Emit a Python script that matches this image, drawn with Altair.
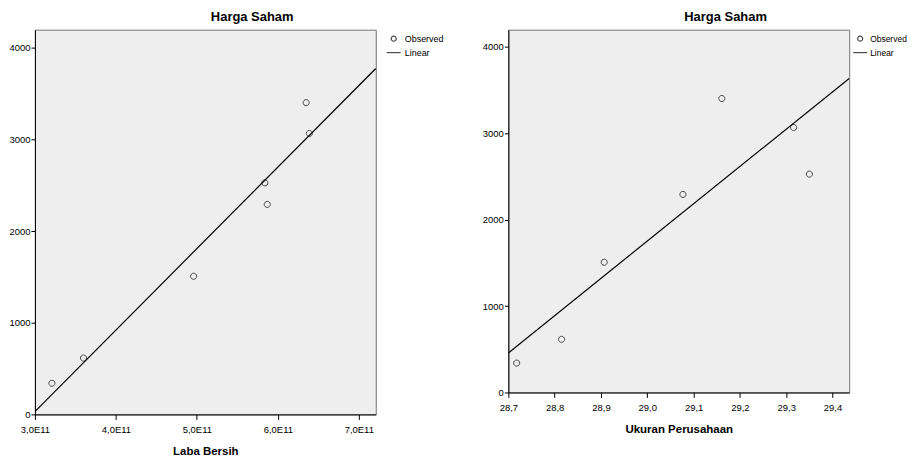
import altair as alt
import pandas as pd

# Data (7 firms)
harga_saham = [340, 615, 1508, 2293, 2528, 3067, 3403]
laba_bersih = [3.21e11, 3.60e11, 4.96e11, 5.87e11, 5.84e11, 6.39e11, 6.35e11]
ukuran_perusahaan = [28.718, 28.815, 28.907, 29.077, 29.350, 29.316, 29.161]

legend_items = ["Observed", "Linear"]
y_ticks = [0, 1000, 2000, 3000, 4000]
x1_ticks = [3.0e11, 4.0e11, 5.0e11, 6.0e11, 7.0e11]
x2_ticks = [28.7, 28.8, 28.9, 29.0, 29.1, 29.2, 29.3, 29.4]

df = pd.DataFrame({
    "laba": laba_bersih,
    "ukuran": ukuran_perusahaan,
    "harga": harga_saham,
    "series": ["Observed"] * len(harga_saham),
})

FONT = "Liberation Sans"
CIRCLE = "M-0.36,0A0.36,0.36,0,1,1,0.36,0A0.36,0.36,0,1,1,-0.36,0Z"
LINE = "M-1,0L1,0"
BG = "#eeeeee"

def panel(xfield, xtitle, xdomain, xticks, label_expr, height, leg_x, leg_font, leg_off):
    yenc = alt.Y(
        "harga:Q",
        scale=alt.Scale(domain=[0, 4200], nice=False, zero=False),
        axis=alt.Axis(values=y_ticks, format="d", title=None, grid=False,
                      labelFontSize=9.5, labelPadding=1, tickSize=4,
                      tickColor="black", domainColor="black", labelColor="black"),
    )
    xenc = alt.X(
        f"{xfield}:Q",
        scale=alt.Scale(domain=xdomain, nice=False, zero=False),
        axis=alt.Axis(values=xticks, labelExpr=label_expr, title=xtitle, grid=False,
                      labelFontSize=9.5, labelPadding=5, tickSize=5,
                      tickColor="black", domainColor="black", labelColor="black",
                      titleFontSize=11.5, titleFontWeight="bold", titlePadding=12,
                      titleColor="black", labelFlush=False),
    )
    pts = alt.Chart(df).mark_point(filled=False, size=290, strokeWidth=1, color="black").encode(
        x=xenc,
        y=yenc,
        shape=alt.Shape(
            "series:N",
            scale=alt.Scale(domain=legend_items, range=[CIRCLE, LINE]),
            legend=alt.Legend(
                title=None, orient="none", legendX=leg_x, legendY=1,
                symbolSize=196, symbolStrokeColor="black", symbolStrokeWidth=1.2,
                symbolFillColor="transparent", labelFontSize=leg_font, labelColor="black",
                labelOffset=leg_off, rowPadding=1, padding=0, labelFont=FONT,
            ),
        ),
    )
    line = alt.Chart(df).transform_regression(
        xfield, "harga", extent=xdomain
    ).mark_line(color="black", strokeWidth=1.2, clip=True).encode(
        x=alt.X(f"{xfield}:Q"),
        y=alt.Y("harga:Q"),
    )
    return alt.layer(pts, line).properties(
        width=342,
        height=height,
        view=alt.ViewBackground(fill=BG, stroke="#777777", strokeWidth=1),
        title=alt.TitleParams("Harga Saham", fontSize=13, fontWeight="bold",
                              font=FONT, color="black", dx=47, offset=6),
    )

left = panel("laba", "Laba Bersih", [3.0e11, 7.21e11], x1_ticks,
             "replace(format(datum.value / 1e11, '.1f'), '.', ',') + 'E11'", 386,
             352, 9, 3)
right = panel("ukuran", "Ukuran Perusahaan", [28.7, 29.436], x2_ticks,
              "replace(format(datum.value, '.1f'), '.', ',')", 364,
              345, 8.5, 2)

chart = alt.hconcat(left, right, spacing=133, bounds="flush").resolve_scale(
    shape="independent"
).resolve_legend(shape="independent").properties(
    padding={"left": 0, "top": 1, "right": 0, "bottom": 0},
    background="white",
).configure_view(
    fill=BG, stroke="#777777", strokeWidth=1
).configure(font=FONT)

chart.save("out.html", embed_options={"renderer": "svg", "actions": False})
